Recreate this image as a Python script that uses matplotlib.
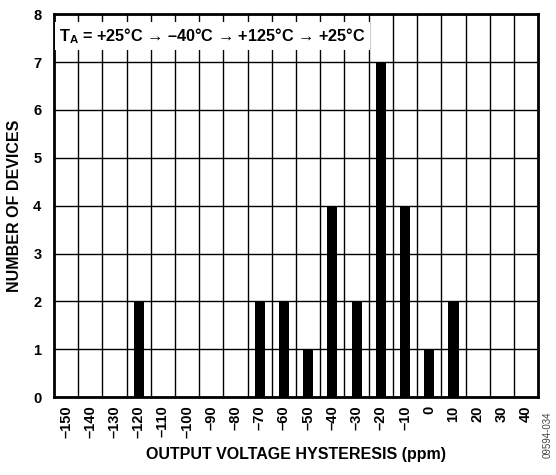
import matplotlib.pyplot as plt
import numpy as np

plt.rcParams['font.family'] = ['Liberation Sans', 'DejaVu Sans']
plt.rcParams['mathtext.fontset'] = 'custom'
plt.rcParams['mathtext.rm'] = 'Liberation Sans:bold'

# categories on x (ppm) and number of devices
hysteresis = [-150, -140, -130, -120, -110, -100, -90, -80, -70, -60,
              -50, -40, -30, -20, -10, 0, 10, 20, 30, 40]
devices = [0, 0, 0, 2, 0, 0, 0, 0, 2, 2,
           1, 4, 2, 7, 4, 1, 2, 0, 0, 0]
tick_labels = [str(v).replace('-', '\u2013') for v in hysteresis]
note = '$\\mathrm{T_A}$ = +25°C \u2192 \u201340°C \u2192 +125°C \u2192 +25°C'

fig = plt.figure(figsize=(5.56, 4.75), dpi=100)
ax = fig.add_axes([0.097, 0.164, 0.871, 0.806])

x = np.arange(len(hysteresis))
ax.bar(x, devices, width=0.42, color='black', zorder=3)

ax.set_xlim(-0.5, len(hysteresis) - 0.5)
ax.set_ylim(0, 8)
ax.set_xticks(x)
ax.set_xticklabels(tick_labels, rotation=90, fontsize=10.5, fontweight='bold')
ax.set_xticks(x[:-1] + 0.5, minor=True)
ax.set_yticks(range(9))
ax.set_yticklabels([str(i) for i in range(9)], fontsize=10.5, fontweight='bold')
ax.tick_params(which='both', length=0)
ax.tick_params(axis='x', pad=6)
ax.tick_params(axis='y', pad=9)

ax.grid(which='minor', axis='x', color='black', linewidth=1, zorder=1)
ax.grid(which='major', axis='y', color='black', linewidth=1, zorder=1)
for s in ax.spines.values():
    s.set_linewidth(2)

ax.set_xlabel('OUTPUT VOLTAGE HYSTERESIS (ppm)', fontsize=11.5, fontweight='bold', labelpad=6)
ax.set_ylabel('NUMBER OF DEVICES', fontsize=11.5, fontweight='bold', labelpad=8)

ax.text(-0.28, 7.55, note, fontsize=11.7, fontweight='bold', va='center', ha='left',
        zorder=4, bbox=dict(facecolor='white', edgecolor='none', pad=3))

fig.text(0.985, 0.085, '09594-034', rotation=90, fontsize=7, color='#444444',
         ha='center', va='center')

fig.savefig('out.png', dpi=100)
